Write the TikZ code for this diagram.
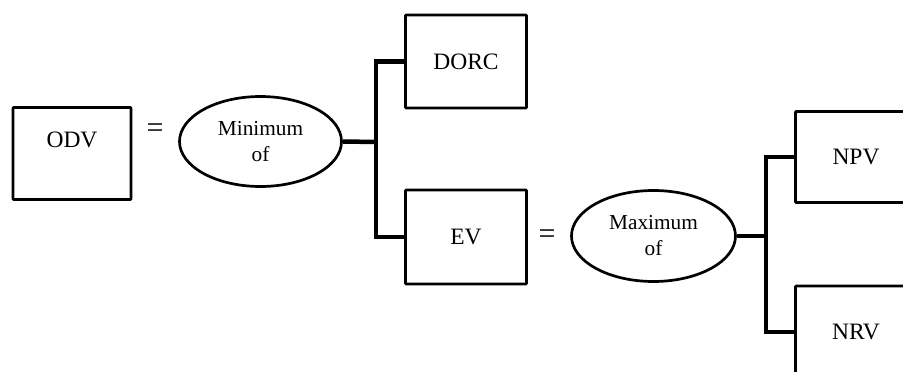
\documentclass[tikz,border=0pt]{standalone}
\usepackage{fontspec}
\setmainfont{Liberation Serif}
\usetikzlibrary{shapes.geometric}
\begin{document}
\begin{tikzpicture}[x=1pt,y=-1pt,
  box/.style={draw, line width=2.7pt, rounded corners=0.8pt, minimum width=121pt, minimum height=93pt, inner sep=0pt, font=\fontsize{23.5}{26}\selectfont},
  oval/.style={draw, ellipse, line width=2.7pt, minimum width=163pt, minimum height=91pt, inner sep=0pt, align=center, font=\fontsize{21.3}{26}\selectfont},
  eq/.style={font=\fontsize{30}{30}\selectfont, inner sep=0pt},
  branch/.style={line width=4.5pt, line join=miter}]
\clip (0,0) rectangle (903,372);
% left group
\node[box, minimum width=118pt, minimum height=92pt, text depth=27pt] (odv) at (72,153.5) {ODV};
\node[eq] (eq1) at (155,131) {=};
\node[oval, minimum width=162pt, minimum height=90pt] (min) at (260.5,141.5) {Minimum\\of};
\node[box] (dorc) at (466,61.5) {DORC};
\node[box, minimum height=94pt] (ev) at (466,237) {EV};
\coordinate (j1) at (376,142);
\draw[branch] (min.east) -- (j1);
\draw[branch] (dorc.west) -| (j1) |- (ev.west);
% right group
\node[eq] (eq2) at (547,237) {=};
\node[oval, minimum width=164pt] (max) at (653.5,236) {Maximum\\of};
\node[box, minimum height=91pt] (npv) at (856,157) {NPV};
\node[box, minimum height=92pt] (nrv) at (856,332) {NRV};
\coordinate (j2) at (766,236);
\draw[branch] (max.east) -- (j2);
\draw[branch] (npv.west) -| (j2) |- (nrv.west);
\end{tikzpicture}
\end{document}
